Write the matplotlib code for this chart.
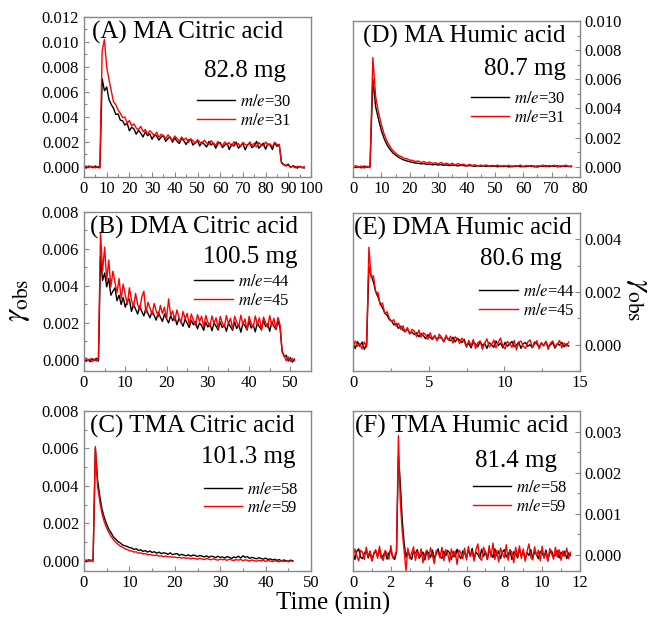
import matplotlib
matplotlib.use('Agg')
import matplotlib.pyplot as plt
import numpy as np
from matplotlib.ticker import MultipleLocator, AutoMinorLocator, FormatStrFormatter

plt.rcParams['font.family'] = ['Liberation Serif', 'DejaVu Serif']
plt.rcParams['mathtext.fontset'] = 'stix'

# signals are stored in units of 1e-5, sampled every dt minutes from t = 0

# (A) MA / citric acid, dt = 1 min
ma_cit_30 = [4, -9, 7, 2, -6, 8, -3, -7, 705, 610, 640, 540, 500, 470, 420, 425, 375, 370, 335, 350,
             290, 318, 305, 262, 295, 270, 240, 282, 250, 265, 222, 258, 248, 215, 240, 252, 205, 228, 240, 198,
             232, 205, 188, 228, 210, 180, 215, 222, 175, 196, 210, 168, 200, 182, 160, 205, 176, 192, 150, 185,
             196, 155, 175, 190, 140, 182, 168, 200, 150, 172, 188, 138, 178, 192, 155, 168, 205, 150, 170, 190,
             142, 185, 176, 140, 195, 165, 178, 38, 20, 12, 22, -4, 10, 3, -9, 6, -3, -8]
ma_cit_31 = [-3, 8, -5, 6, 2, -7, 5, -2, 930, 1020, 800, 700, 610, 520, 500, 455, 430, 395, 400, 350,
             372, 330, 345, 312, 298, 325, 282, 300, 262, 290, 272, 245, 278, 238, 262, 250, 225, 258, 232, 215,
             248, 228, 205, 240, 218, 232, 196, 225, 210, 188, 220, 200, 185, 215, 192, 178, 210, 190, 172, 205,
             185, 168, 200, 180, 195, 165, 202, 176, 188, 162, 198, 180, 170, 200, 172, 190, 160, 196, 178, 168,
             200, 175, 185, 160, 198, 178, 182, 30, 18, 8, 14, -2, 6, -7, 5, 2, -6, 3]

# (B) DMA / citric acid, dt = 0.5 min
dma_cit_44 = [5, -8, 2, -10, 7, -3, 9, -6, 560, 430, 470, 395, 440, 350, 372, 390, 320, 350, 300, 338,
              285, 318, 330, 262, 300, 275, 248, 292, 262, 238, 280, 250, 228, 265, 240, 215, 258, 232, 208, 248,
              222, 200, 240, 212, 236, 190, 225, 205, 182, 220, 198, 175, 215, 190, 208, 168, 200, 185, 160, 205,
              178, 195, 158, 200, 182, 162, 205, 175, 190, 155, 198, 180, 160, 205, 170, 192, 150, 198, 185, 162,
              210, 172, 190, 152, 200, 178, 165, 215, 180, 195, 155, 205, 182, 165, 210, 175, 50, 18, 25, -6,
              12, -12, 4]
dma_cit_45 = [-6, 10, -3, 6, -10, 4, -7, 9, 690, 480, 610, 430, 540, 395, 480, 420, 365, 440, 330, 410,
              350, 300, 390, 325, 285, 360, 300, 270, 340, 372, 255, 312, 280, 245, 305, 265, 235, 295, 250, 285,
              222, 330, 240, 265, 212, 270, 232, 200, 262, 222, 252, 190, 248, 215, 186, 245, 208, 236, 175, 240,
              205, 180, 238, 198, 228, 170, 235, 200, 178, 240, 195, 225, 165, 236, 205, 180, 242, 190, 222, 162,
              235, 198, 175, 238, 192, 228, 160, 232, 200, 176, 240, 185, 225, 165, 230, 190, 42, 22, -5, 16,
              -9, 8, -4]

# (C) TMA / citric acid, dt = 0.5 min
tma_cit_58 = [3, -6, 5, -2, 6, 600, 430, 340, 272, 228, 195, 166, 148, 126, 115, 102, 95, 84, 80, 76,
              70, 68, 60, 64, 55, 58, 50, 54, 46, 52, 44, 48, 40, 46, 38, 42, 40, 34, 42, 32,
              36, 38, 28, 34, 30, 26, 32, 24, 30, 28, 22, 28, 24, 20, 26, 18, 24, 22, 16, 24,
              18, 20, 14, 22, 18, 12, 20, 16, 24, 14, 26, 18, 22, 12, 18, 14, 10, 16, 12, 8,
              14, 6, 10, 4, 8, 2, 6, -2, 4, 0, -3, 3, -1]
tma_cit_59 = [-4, 5, -3, 4, -5, 610, 395, 312, 248, 205, 175, 150, 128, 112, 98, 88, 78, 72, 64, 60,
              54, 52, 46, 48, 40, 42, 36, 38, 32, 34, 30, 28, 30, 24, 26, 22, 25, 20, 22, 18,
              20, 16, 18, 14, 17, 12, 15, 10, 14, 11, 8, 13, 9, 6, 12, 8, 5, 10, 6, 3,
              9, 5, 7, 2, 8, 4, 1, 6, 3, 7, 0, 5, 2, -2, 4, 0, -3, 2, -1, 3,
              -4, 1, -2, -5, 0, -3, -6, 1, -4, -2, -6, -1, -3]

# (D) MA / humic acid, dt = 1 min
ma_hum_30 = [3, -6, 2, -8, 5, -3, 4, 600, 410, 325, 248, 192, 150, 120, 96, 80, 66, 55, 46, 40,
             35, 30, 26, 24, 20, 22, 16, 18, 14, 16, 12, 15, 10, 13, 8, 12, 10, 6, 11, 8,
             5, 9, 6, 3, 8, 4, 6, 2, 7, 3, 5, 0, 6, 2, 4, -1, 5, 2, 6, 0,
             4, 1, 7, 2, 5, -2, 6, 3, 8, 1, 5, 3, 7, 0, 6, 2, 4, 1]
ma_hum_31 = [-5, 8, -3, 6, -9, 4, -7, 750, 480, 370, 290, 222, 175, 140, 112, 95, 78, 70, 58, 55,
             46, 44, 36, 40, 30, 36, 26, 32, 24, 28, 20, 30, 18, 25, 16, 24, 12, 22, 14, 18,
             8, 16, 10, 14, 4, 12, 8, 13, 2, 10, 6, 12, 0, 9, 4, 11, -2, 8, 5, 12,
             -1, 9, 3, 10, -3, 8, 4, 12, 0, 9, 5, 11, -2, 8, 3, 12, 1, 6]

# (E) DMA / humic acid, dt = 0.15 min
dma_hum_44 = [5, -15, 12, -6, 10, -18, 2, 295, 262, 238, 200, 182, 155, 140, 120, 112, 95, 90, 75, 80,
              62, 70, 55, 50, 60, 42, 48, 38, 45, 30, 42, 35, 22, 38, 28, 20, 34, 18, 28, 25,
              12, 30, 20, 15, 28, 10, 24, 18, 8, 20, -5, 6, -12, 10, 2, -8, 12, -4, 5, -14,
              8, 0, -10, 14, -3, 6, -12, 9, -6, 2, 12, -8, -2, 10, -14, 4, 8, -6, 0, -12,
              10, 3, -9, 6, -4, 12, -10, 0, 7, -13, 4, -2, 9, -8, 3, -5]
dma_hum_45 = [-10, 14, -6, 4, -16, 10, -8, 370, 255, 262, 200, 198, 150, 158, 118, 125, 100, 88, 95, 70,
              82, 58, 72, 48, 65, 40, 58, 52, 30, 55, 28, 45, 38, 20, 45, 22, 35, 15, 40, 28,
              10, 36, 18, 32, 6, 30, 22, 5, 25, 12, -10, 16, -4, 20, -15, 8, 14, -18, 6, 22,
              -8, -2, 18, -12, 10, 25, -6, -16, 12, 4, -10, 16, -20, 8, 14, -6, -14, 10, 18, -10,
              2, 15, -16, 8, -4, 12, -18, 6, 14, -8, 2, 16, -12, 6, -6, 10]

# (F) TMA / humic acid, dt = 0.1 min
tma_hum_58 = [5, -12, 8, 14, -6, -10, 3, 11, -8, 6, -14, 2, 9, -4, 12, -9, -2, 7, -11, 4,
              10, -6, -12, 6, 240, 175, 85, 30, -6, 10, -4, -12, 8, 3, 12, -9, -1, 6, -13, 9,
              4, -7, 11, -10, 2, 14, -5, -9, 8, -3, 10, 5, -12, 7, -6, 13, -2, -10, 9, 4,
              -8, 12, -4, 15, -11, 6, 1, -9, 13, -5, 8, -12, 10, 3, -7, 14, -3, 9, -10, 6,
              12, -6, -1, 11, -12, 7, 2, -8, 13, -4, 9, -11, 5, -2, 12, -9, 7, 1, -10, 8,
              3, -6, 11, -12, 4, 9, -5, -1, 10, -8, 6, -3, 8, -10, 4, -2]
tma_hum_59 = [-8, 14, -3, -15, 10, 6, -12, 18, -5, 9, -16, 4, 12, -9, 20, -6, -14, 10, 3, -11,
              22, -8, -4, 8, 290, 130, 58, 12, -40, 16, -10, 4, 19, -14, 8, -6, 14, -20, 2, 11,
              -12, 17, -3, -22, 10, 6, -8, 18, -15, 12, 3, -18, 14, -6, 9, -24, 11, 4, -10, 16,
              -13, 20, -4, 8, -16, 12, 26, -9, -14, 18, 5, -11, 22, -6, 28, -12, 10, -18, 16, 3,
              -8, 24, -14, 12, 6, -20, 18, -4, 21, -10, 14, -16, 8, 26, -7, -13, 19, -3, 11, -15,
              20, -9, 6, -17, 15, 2, -11, 18, -6, 12, -14, 9, -4, 16, -10, 6]

SCALE = 1e-5

panels = [
    # label, mass, m/e pair, (black, red), dt
    ('(A) MA Citric acid', '82.8 mg', (30, 31), (ma_cit_30, ma_cit_31), 1.0),
    ('(B) DMA Citric acid', '100.5 mg', (44, 45), (dma_cit_44, dma_cit_45), 0.5),
    ('(C) TMA Citric acid', '101.3 mg', (58, 59), (tma_cit_58, tma_cit_59), 0.5),
    ('(D) MA Humic acid', '80.7 mg', (30, 31), (ma_hum_30, ma_hum_31), 1.0),
    ('(E) DMA Humic acid', '80.6 mg', (44, 45), (dma_hum_44, dma_hum_45), 0.15),
    ('(F) TMA Humic acid', '81.4 mg', (58, 59), (tma_hum_58, tma_hum_59), 0.1),
]

# axes boxes in pixels (left, top, right, bottom) on a 652x617 canvas
boxes = [(84, 17, 311, 177), (84, 212, 311, 371), (84, 411, 311, 571),
         (353, 21, 580, 177), (353, 213, 580, 371), (353, 411, 580, 571)]
xlims = [(0, 100), (0, 55), (0, 50), (0, 80), (0, 15), (0, 12)]
xsteps = [10, 10, 10, 10, 5, 2]
ylims = [(-0.0008, 0.012), (-0.0006, 0.008), (-0.00055, 0.008),
         (-0.0007, 0.010), (-0.001, 0.005), (-0.0004, 0.0035)]
ysteps = [0.002, 0.002, 0.002, 0.002, 0.002, 0.001]
# text anchors in axes fractions: title x, mass (x, y), legend anchor (x, y)
title_x = [0.035, 0.025, 0.025, 0.045, 0.005, 0.01]
mass_xy = [(0.89, 0.66), (0.94, 0.72), (0.93, 0.71), (0.94, 0.69), (0.92, 0.71), (0.90, 0.69)]
leg_xy = [(0.93, 0.41), (0.92, 0.50), (0.96, 0.45), (0.95, 0.44), (0.99, 0.44), (0.96, 0.46)]

W, H = 652.0, 617.0
SPINE = '#888888'


def main():
    fig = plt.figure(figsize=(6.52, 6.17), dpi=100)

    for i, (title, mass, me, series, dt) in enumerate(panels):
        l, t, r, b = boxes[i]
        ax = fig.add_axes([l / W, 1 - b / H, (r - l) / W, (b - t) / H])

        for y, col, m in zip(series, ('black', 'red'), me):
            y = np.array(y) * SCALE
            x = np.arange(len(y)) * dt
            ax.plot(x, y, color=col, lw=1.0, label=r'$\mathit{m/e}$=%d' % m)

        ax.set_xlim(*xlims[i])
        ax.set_ylim(*ylims[i])
        ax.xaxis.set_major_locator(MultipleLocator(xsteps[i]))
        ax.yaxis.set_major_locator(MultipleLocator(ysteps[i]))
        ax.xaxis.set_minor_locator(AutoMinorLocator(2))
        ax.yaxis.set_minor_locator(AutoMinorLocator(2))
        ax.yaxis.set_major_formatter(FormatStrFormatter('%.3f'))

        if i >= 3:
            ax.yaxis.tick_right()
        ax.tick_params(which='both', direction='in', colors=SPINE, labelcolor='black',
                       labelsize=12, width=0.8)
        ax.tick_params(which='major', length=3.5)
        ax.tick_params(which='minor', length=2)
        ax.tick_params(axis='x', pad=3)
        for s in ax.spines.values():
            s.set_color(SPINE)
            s.set_linewidth(1.0)

        ax.text(title_x[i], 0.975, title, transform=ax.transAxes, fontsize=18,
                ha='left', va='top')
        ax.text(mass_xy[i][0], mass_xy[i][1], mass, transform=ax.transAxes, fontsize=18,
                ha='right', va='center')
        leg = ax.legend(loc='center right', bbox_to_anchor=leg_xy[i], frameon=False,
                        fontsize=12, handlelength=2.3, handletextpad=0.3, labelspacing=0.15,
                        borderpad=0.2, borderaxespad=0)
        for ln in leg.get_lines():
            ln.set_linewidth(1.0)

    fig.text(18 / W, 1 - 300 / H, r'$\gamma_{\mathrm{obs}}$', fontsize=22,
             rotation=90, ha='center', va='center')
    fig.text(638 / W, 1 - 300 / H, r'$\gamma_{\mathrm{obs}}$', fontsize=22,
             rotation=-90, ha='center', va='center')
    fig.text(333 / W, 1 - 603 / H, 'Time (min)', fontsize=18, ha='center', va='center')

    fig.savefig('out.png', dpi=100)


if __name__ == '__main__':
    main()
